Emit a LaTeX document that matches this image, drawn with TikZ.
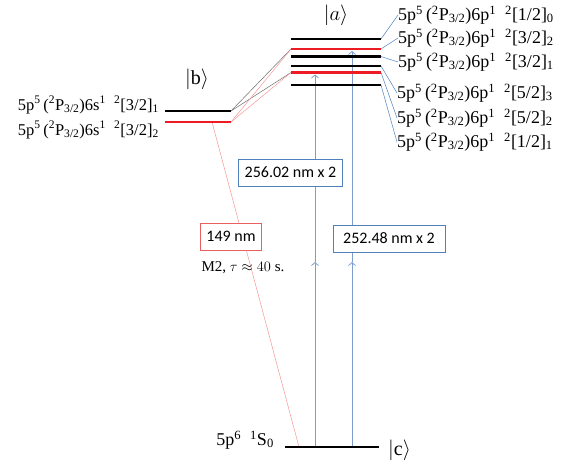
\documentclass[tikz,border=0pt]{standalone}
\usepackage{fontspec}
\setmainfont{Liberation Serif}
\newfontfamily\boxfont{Carlito}
\usetikzlibrary{arrows.meta}
\definecolor{LvlRed}{RGB}{237,28,36}
\definecolor{LinkBlue}{RGB}{79,129,189}
\definecolor{PumpBlue}{RGB}{125,158,204}
\definecolor{PaleRed}{RGB}{246,150,150}
\definecolor{BoxRed}{RGB}{232,96,96}
\definecolor{LinkGray}{RGB}{110,110,110}
\newcommand{\sixp}[2]{5p\textsuperscript{5}\,(\textsuperscript{2}P\textsubscript{3/2})6p\textsuperscript{1}\ \ \textsuperscript{2}[#1]\textsubscript{#2}}
\newcommand{\sixs}[2]{5p\textsuperscript{5}\,(\textsuperscript{2}P\textsubscript{3/2})6s\textsuperscript{1}\ \ \textsuperscript{2}[#1]\textsubscript{#2}}
\tikzset{
  en/level/.style={line width=2.8pt, draw=black},
  en/redlevel/.style={line width=2.8pt, draw=LvlRed},
  en/term/.style={font=\fontsize{18}{20}\selectfont, inner sep=0pt},
  en/smallterm/.style={font=\fontsize{16.5}{18}\selectfont, inner sep=0pt},
  en/note/.style={font=\fontsize{15}{17}\selectfont, inner sep=0pt},
  en/ket/.style={font=\fontsize{20}{22}\selectfont, inner sep=0pt},
  en/link/.style={draw=LinkBlue, line width=0.5pt},
  en/graylink/.style={draw=LinkGray, line width=0.5pt},
  en/redlink/.style={draw=PaleRed, line width=0.5pt},
  en/pump/.style={draw=PumpBlue, line width=0.8pt, -{Straight Barb[length=3pt,width=7pt]}},
  en/wave/.style={
    draw=LinkBlue,
    fill=white,
    line width=0.7pt,
    font=\boxfont\fontsize{16}{18}\selectfont,
    minimum height=27pt,
    inner xsep=6pt
  },
  en/decaybox/.style={en/wave, draw=BoxRed}
}

\begin{document}
\begin{tikzpicture}[x=1pt,y=-1pt]
  \useasboundingbox (0,0) rectangle (562,467);

  % levels of |a>
  \coordinate (a1l) at (291,39);   \coordinate (a1r) at (381,39);
  \coordinate (a2l) at (291,49);   \coordinate (a2r) at (381,49);
  \coordinate (a3l) at (291,56.5); \coordinate (a3r) at (381,56.5);
  \coordinate (a4l) at (291,66);   \coordinate (a4r) at (381,66);
  \coordinate (a5l) at (291,72.5); \coordinate (a5r) at (381,72.5);
  \coordinate (a6l) at (291,85);   \coordinate (a6r) at (381,85);
  % levels of |b> and |c>
  \coordinate (b1l) at (165,111);  \coordinate (b1r) at (231,111);
  \coordinate (b2l) at (165,122);  \coordinate (b2r) at (231,122);
  \coordinate (c1l) at (285,447);  \coordinate (c1r) at (379,447);

  % b -> a links
  \draw[en/graylink] (b1r) -- (a2l);
  \draw[en/graylink] (b1r) -- (a5l);
  \draw[en/redlink] (b2r) -- (a2l);
  \draw[en/redlink] (b2r) -- (a5l);

  % 149 nm decay
  \coordinate (dtop) at (212,122);
  \coordinate (dbot) at (299,447);
  \draw[en/redlink] (dtop) -- (dbot);

  % two-photon pumps
  \coordinate (p1bot) at (315,447); \coordinate (p1mid) at (315,262); \coordinate (p1top) at (315,74.5);
  \coordinate (p2bot) at (352,447); \coordinate (p2mid) at (352,262); \coordinate (p2top) at (352,51);
  \draw[en/pump] (p1bot) -- (p1mid);
  \draw[en/pump] (p1mid) -- (p1top);
  \draw[en/pump] (p2bot) -- (p2mid);
  \draw[en/pump] (p2mid) -- (p2top);

  \draw[en/level] (a1l) -- (a1r);
  \draw[en/redlevel] (a2l) -- (a2r);
  \draw[en/level] (a3l) -- (a3r);
  \draw[en/level] (a4l) -- (a4r);
  \draw[en/redlevel] (a5l) -- (a5r);
  \draw[en/level] (a6l) -- (a6r);
  \draw[en/level] (b1l) -- (b1r);
  \draw[en/redlevel] (b2l) -- (b2r);
  \draw[en/level] (c1l) -- (c1r);

  % term labels
  \node[en/term,anchor=west] (t1) at (398,15) {\sixp{1/2}{0}};
  \node[en/term,anchor=west] (t2) at (398,38) {\sixp{3/2}{2}};
  \node[en/term,anchor=west] (t3) at (398,62) {\sixp{3/2}{1}};
  \node[en/term,anchor=west] (t4) at (397,93) {\sixp{5/2}{3}};
  \node[en/term,anchor=west] (t5) at (397,118) {\sixp{5/2}{2}};
  \node[en/term,anchor=west] (t6) at (397,142) {\sixp{1/2}{1}};
  \draw[en/link] (t1.west) -- (a1r);
  \draw[en/link] (t2.west) -- (a2r);
  \draw[en/link] (t3.west) -- (a3r);
  \draw[en/link] (t4.west) -- (a4r);
  \draw[en/link] (t5.west) -- (a5r);
  \draw[en/link] (t6.west) -- (a6r);

  \node[en/smallterm,anchor=east] (s1) at (159,105) {\sixs{3/2}{1}};
  \node[en/smallterm,anchor=east] (s2) at (159,130) {\sixs{3/2}{2}};
  \node[en/term,anchor=east] (g0) at (274,440) {5p\textsuperscript{6}\ \ \textsuperscript{1}S\textsubscript{0}};

  \node[en/ket] (keta) at (336,15) {$|a\rangle$};
  \node[en/ket] (ketb) at (197,79) {$|\mathrm{b}\rangle$};
  \node[en/ket,anchor=west] (ketc) at (388,450) {$|\mathrm{c}\rangle$};

  % wavelength boxes
  \node[en/wave,minimum width=103pt] (w256) at (290.5,172.5) {256.02 nm x 2};
  \node[en/wave,minimum width=112pt] (w252) at (389,238.5) {252.48 nm x 2};
  \node[en/decaybox,minimum width=60pt] (w149) at (231,236.5) {149 nm};
  \node[en/note] (m2) at (243,268) {M2, $\tau\approx 40$ s.};
\end{tikzpicture}
\end{document}
